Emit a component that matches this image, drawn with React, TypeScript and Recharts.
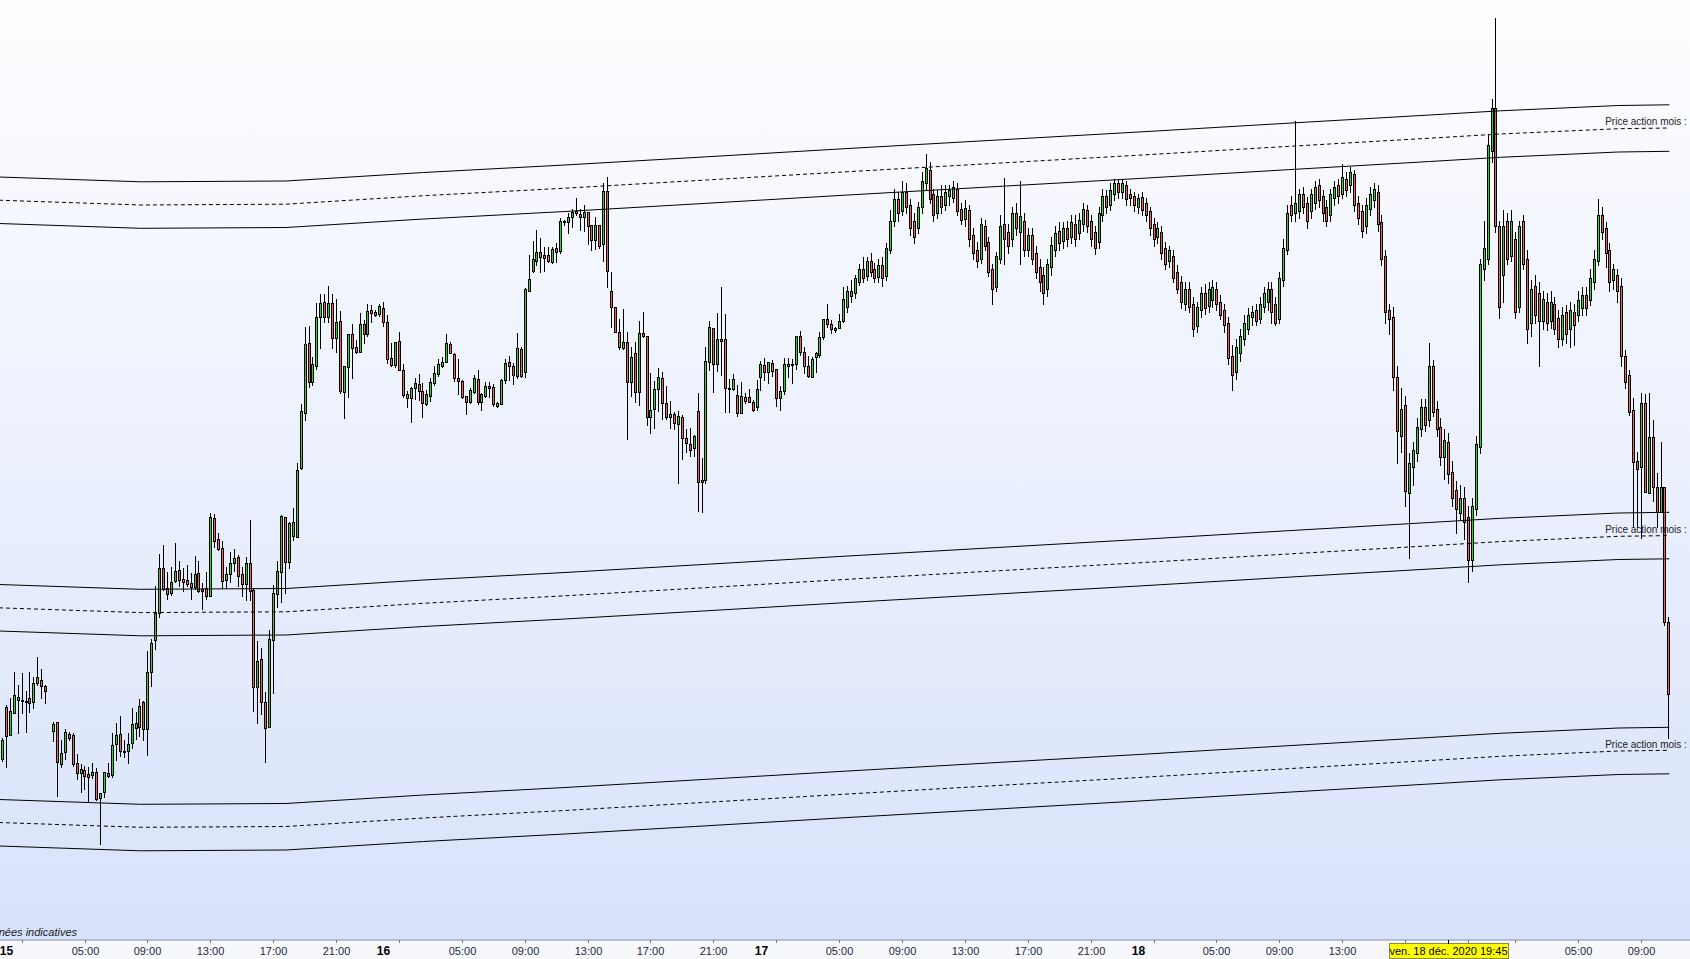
import React from 'react';
import { ComposedChart, Bar, Line, XAxis, YAxis } from 'recharts';

// 15-minute candles [open, high, low, close], first one = 14 Dec 23:45, null = no trade
const candles: ([number, number, number, number] | null)[] = [
  [640,660,638,655],[641,662,639,660],[693,695,633,664],[665,702,665,689],[687,728,687,705],[700,715,667,703],
  [700,727,687,700],[699,709,668,699],[702,728,688,697],[698,723,692,717],[717,743,715,723],[720,731,702,714],
  [714,715,697,709],null,[669,678,659,676],[678,678,604,638],[636,660,633,647],[648,671,641,668],
  [662,668,660,666],[665,667,634,636],[637,646,621,627],[627,636,608,631],[630,634,611,624],[626,633,598,623],
  [625,637,622,628],[628,632,600,601],[602,607,556,607],[608,628,603,628],[627,637,623,624],[625,667,623,655],
  [656,677,640,665],[666,684,644,649],[649,660,643,649],[649,667,637,656],[657,692,652,676],[677,688,661,672],
  [673,701,664,694],[698,699,660,671],[671,749,645,728],[728,761,714,757],[760,814,751,787],[787,846,783,832],
  [832,855,810,811],[812,828,801,806],[807,833,805,818],[819,857,818,829],[830,839,814,820],[821,832,809,818],
  [820,835,814,816],[817,827,801,813],[813,844,811,826],[827,839,808,809],[811,817,791,809],[812,828,801,804],
  [804,887,804,883],[882,886,853,859],[861,867,850,851],[852,859,812,819],[820,833,812,826],[826,848,818,837],
  [837,851,829,842],[843,845,814,824],[826,833,804,816],[816,843,800,837],[837,880,800,809],[810,812,689,713],
  [713,759,677,739],[741,752,686,698],[698,708,638,672],[673,770,673,761],[760,815,707,807],[806,839,793,829],
  [828,885,798,884],[883,883,807,838],[838,878,832,877],[864,892,860,878],[863,937,863,930],[932,996,931,989],
  [987,1073,980,1056],[1057,1074,1013,1018],[1018,1043,1015,1036],[1034,1097,1031,1083],[1083,1106,1052,1097],[1098,1106,1078,1083],
  [1083,1114,1078,1097],[1097,1106,1052,1062],[1062,1101,1048,1078],[1079,1089,1007,1009],[1008,1034,982,1034],[1033,1066,1003,1066],
  [1066,1076,1022,1052],[1053,1060,1047,1048],[1048,1087,1048,1076],[1076,1080,1057,1066],[1066,1096,1064,1089],[1090,1095,1078,1087],
  [1088,1090,1084,1085],[1086,1096,1084,1094],[1092,1098,1074,1078],[1078,1085,1037,1041],[1042,1057,1034,1035],[1035,1058,1033,1058],
  [1059,1068,1030,1030],[1030,1036,1003,1005],[1006,1009,993,1002],[1002,1013,978,1012],[1012,1022,1001,1017],[1016,1026,1000,1009],
  [1009,1017,983,997],[996,1010,995,1006],[1004,1022,999,1018],[1017,1034,1015,1027],[1026,1041,1024,1036],[1034,1043,1033,1038],
  [1038,1066,1038,1057],[1056,1058,1047,1047],[1046,1047,1019,1022],[1022,1041,1006,1019],[1019,1020,1002,1003],[1004,1004,986,998],
  [998,1012,997,1010],[1008,1025,1007,1022],[1021,1030,996,998],[998,1007,990,1006],[1004,1018,1003,1014],[1014,1018,1003,1012],
  [1013,1016,994,996],[994,998,993,997],[996,1021,996,1020],[1020,1041,1017,1037],[1038,1044,1020,1034],[1034,1037,1016,1025],
  [1024,1067,1022,1052],[1051,1053,1023,1024],[1028,1112,1023,1111],[1109,1145,1109,1121],[1129,1159,1128,1141],[1139,1170,1135,1148],
  [1148,1162,1128,1143],[1145,1153,1129,1142],[1145,1153,1138,1139],[1138,1153,1137,1151],[1152,1157,1138,1148],[1149,1182,1147,1179],
  [1178,1180,1175,1179],[1178,1187,1167,1183],[1183,1191,1173,1188],[1189,1202,1185,1187],[1186,1191,1170,1183],[1183,1195,1169,1188],
  [1188,1188,1156,1174],[1175,1175,1150,1160],[1160,1183,1151,1175],[1175,1175,1152,1154],[1156,1217,1139,1209],[1209,1223,1113,1129],
  [1109,1128,1073,1093],[1093,1093,1068,1068],[1068,1081,1051,1053],[1052,1091,1051,1058],[1058,1068,961,1018],[1018,1053,1004,1043],
  [1047,1058,998,1008],[1008,1079,995,1067],[1067,1088,1063,1064],[1064,1064,975,983],[983,1027,967,990],[991,1019,972,1011],
  [1011,1032,989,1023],[1022,1028,981,997],[997,1014,981,983],[983,999,972,986],[986,988,971,977],[976,989,917,984],
  [983,985,941,962],[962,971,948,957],[956,972,944,950],[952,965,944,964],[989,1007,889,918],[918,942,888,920],
  [920,1053,917,1039],[1038,1079,1030,1073],[1072,1072,1008,1036],[1036,1087,1029,1061],[1061,1113,1025,1059],[1061,1086,988,1012],
  [1012,1021,988,1011],[1011,1026,1010,1021],[1005,1015,984,987],[987,1018,987,1004],[1003,1007,997,999],[1003,1011,998,998],
  [998,1000,989,990],[993,1020,990,1011],[1023,1039,1010,1036],[1035,1042,1020,1028],[1028,1038,1017,1038],[1037,1040,1024,1029],
  [1031,1031,994,1002],[1002,1014,990,1009],[1009,1042,1006,1036],[1034,1042,1023,1036],[1035,1041,1017,1036],[1036,1064,1031,1064],
  [1064,1069,1045,1048],[1048,1053,1027,1034],[1034,1044,1023,1024],[1023,1043,1023,1041],[1043,1048,1028,1047],[1045,1068,1043,1063],
  [1063,1081,1061,1081],[1081,1096,1073,1076],[1076,1080,1067,1071],[1072,1073,1068,1070],[1072,1086,1072,1079],[1079,1113,1078,1101],
  [1093,1114,1088,1109],[1109,1120,1098,1104],[1107,1125,1102,1122],[1118,1136,1115,1131],[1131,1143,1118,1122],[1124,1143,1120,1139],
  [1139,1147,1124,1128],[1131,1137,1118,1122],[1123,1141,1118,1135],[1135,1143,1114,1122],[1124,1157,1120,1152],[1150,1190,1147,1179],
  [1179,1211,1174,1201],[1201,1208,1179,1187],[1189,1219,1185,1208],[1208,1217,1187,1193],[1195,1201,1165,1172],[1179,1187,1157,1163],
  [1172,1198,1167,1193],[1193,1228,1187,1219],[1217,1246,1210,1232],[1230,1238,1197,1201],[1206,1211,1179,1185],[1187,1210,1182,1204],
  [1204,1215,1187,1193],[1195,1215,1190,1208],[1204,1215,1195,1210],[1202,1219,1198,1213],[1211,1217,1185,1189],[1191,1197,1176,1180],
  [1181,1200,1174,1192],[1190,1195,1154,1161],[1165,1172,1141,1147],[1150,1158,1133,1139],[1141,1182,1137,1176],[1174,1180,1150,1154],
  [1158,1163,1124,1128],[1131,1136,1096,1111],[1113,1148,1109,1144],[1141,1185,1137,1174],[1176,1222,1136,1161],[1168,1176,1147,1154],
  [1161,1193,1154,1187],[1187,1197,1165,1172],[1168,1219,1136,1184],[1179,1187,1144,1150],[1150,1172,1144,1165],[1165,1172,1136,1141],
  [1147,1154,1122,1128],[1133,1141,1109,1118],[1125,1133,1096,1107],[1111,1141,1104,1136],[1133,1163,1125,1155],[1150,1174,1144,1167],
  [1169,1178,1150,1157],[1159,1178,1152,1172],[1172,1179,1154,1161],[1163,1185,1157,1178],[1176,1185,1154,1161],[1167,1187,1161,1180],
  [1176,1197,1169,1191],[1190,1195,1168,1174],[1179,1185,1154,1161],[1168,1174,1146,1152],[1158,1193,1152,1187],[1185,1211,1179,1204],
  [1204,1210,1187,1193],[1195,1217,1190,1210],[1206,1221,1200,1217],[1217,1221,1202,1208],[1208,1221,1202,1217],[1215,1219,1195,1201],
  [1206,1211,1195,1202],[1204,1208,1189,1195],[1193,1206,1187,1202],[1203,1208,1185,1190],[1197,1202,1179,1185],[1189,1193,1165,1172],
  [1176,1182,1154,1161],[1163,1178,1157,1172],[1168,1174,1141,1147],[1152,1158,1131,1136],[1139,1154,1133,1150],[1144,1150,1118,1122],
  [1128,1135,1107,1111],[1118,1124,1092,1098],[1096,1118,1090,1111],[1111,1118,1088,1093],[1096,1103,1064,1071],[1074,1098,1068,1093],
  [1090,1113,1083,1107],[1107,1116,1086,1092],[1094,1118,1088,1111],[1100,1120,1093,1113],[1111,1118,1090,1096],[1098,1105,1081,1085],
  [1090,1096,1068,1075],[1077,1083,1036,1042],[1044,1055,1010,1025],[1028,1061,1021,1053],[1047,1071,1039,1064],[1061,1085,1055,1077],
  [1071,1092,1066,1085],[1083,1094,1075,1088],[1090,1096,1075,1079],[1081,1103,1077,1096],[1093,1113,1088,1107],[1098,1118,1090,1111],
  [1111,1118,1077,1088],[1096,1103,1075,1077],[1081,1128,1077,1122],[1120,1161,1114,1152],[1150,1195,1146,1187],[1195,1204,1179,1185],
  [1187,1279,1179,1197],[1189,1211,1182,1206],[1206,1213,1187,1193],[1197,1203,1172,1179],[1189,1211,1182,1206],[1197,1219,1191,1213],
  [1215,1221,1193,1200],[1204,1210,1179,1187],[1193,1200,1174,1179],[1185,1211,1179,1206],[1202,1219,1195,1213],[1215,1221,1197,1204],
  [1206,1236,1202,1223],[1221,1228,1204,1210],[1215,1233,1208,1228],[1226,1230,1189,1195],[1197,1204,1176,1182],[1189,1195,1163,1169],
  [1174,1202,1167,1195],[1191,1213,1185,1206],[1200,1217,1193,1211],[1208,1215,1169,1176],[1178,1185,1135,1141],[1144,1150,1077,1088],
  [1090,1096,1066,1081],[1083,1093,1010,1023],[1023,1034,937,969],[964,1012,948,991],[995,1004,894,909],[907,947,842,937],
  [933,958,915,950],[947,982,939,973],[971,1001,964,993],[993,1001,969,975],[980,1057,974,1034],[1034,1040,984,988],
  [991,999,964,971],[973,982,935,943],[943,971,921,960],[958,967,917,926],[928,939,894,902],[910,919,867,891],
  [887,915,881,902],[902,913,861,878],[883,894,818,840],[840,902,829,894],[891,964,885,956],[953,1141,947,1136],
  [1131,1179,1120,1152],[1141,1265,1136,1255],[1249,1301,1238,1292],[1292,1382,1168,1174],[1174,1179,1082,1093],[1125,1190,1098,1174],
  [1179,1187,1136,1141],[1144,1190,1139,1179],[1161,1168,1082,1088],[1093,1179,1088,1174],[1179,1185,1131,1136],[1141,1150,1057,1071],
  [1077,1120,1064,1111],[1114,1125,1077,1085],[1107,1118,1034,1079],[1079,1109,1071,1101],[1098,1107,1070,1077],[1079,1109,1072,1098],
  [1096,1103,1066,1071],[1082,1090,1053,1061],[1061,1093,1055,1085],[1088,1095,1057,1066],[1071,1098,1053,1090],[1088,1096,1055,1075],
  [1085,1109,1079,1100],[1092,1113,1085,1105],[1105,1113,1085,1092],[1100,1131,1095,1122],[1118,1150,1111,1141],[1139,1201,1135,1185],
  [1185,1193,1161,1168],[1172,1178,1133,1147],[1150,1157,1109,1118],[1120,1136,1111,1131],[1125,1131,1098,1109],[1114,1122,1034,1044],
  [1044,1050,1012,1018],[1025,1030,985,988],[990,1002,873,938],[939,948,873,931],[933,1007,862,997],[997,1006,908,908],
  [907,1007,907,963],[963,980,899,913],[913,927,873,888],[888,958,888,913],[913,913,775,778],[778,783,662,706],
];

const firstIndex = -1;
const slotCount = 431;

// "Price action mois" bands, read at these candle indices
const anchorIdx = [-1, 35, 72, 107, 143, 179, 215, 253, 289, 327, 363, 381, 411, 424];
const band1Upper = [1223, 1218.2, 1219, 1227.5, 1235, 1243.2, 1251.5, 1260, 1268, 1276.8, 1285, 1289.2, 1294.5, 1295.2];
const band1Mid = [1199.8, 1195, 1195.8, 1204.3, 1211.8, 1220, 1228.3, 1236.8, 1244.8, 1253.6, 1261.8, 1266, 1271.3, 1272];
const band1Lower = [1176.5, 1171.7, 1172.5, 1181, 1188.5, 1196.7, 1205, 1213.5, 1221.5, 1230.3, 1238.5, 1242.7, 1248, 1248.7];
const band2Upper = [815.5, 810.7, 811.5, 820, 827.5, 835.7, 844, 852.5, 860.5, 869.3, 877.5, 881.7, 887, 887.7];
const band2Mid = [792.2, 787.4, 788.2, 796.7, 804.2, 812.4, 820.7, 829.2, 837.2, 846, 854.2, 858.4, 863.7, 864.4];
const band2Lower = [769, 764.2, 765, 773.5, 781, 789.2, 797.5, 806, 814, 822.8, 831, 835.2, 840.5, 841.2];
const band3Upper = [600.5, 595.7, 596.5, 605, 612.5, 620.7, 629, 637.5, 645.5, 654.3, 662.5, 666.7, 672, 672.7];
const band3Mid = [577.5, 572.7, 573.5, 582, 589.5, 597.7, 606, 614.5, 622.5, 631.3, 639.5, 643.7, 649, 649.7];
const band3Lower = [554, 549.2, 550, 558.5, 566, 574.2, 582.5, 591, 599, 607.8, 616, 620.2, 625.5, 626.2];
const bandLabel = 'Price action mois :';
const lastAnchor = anchorIdx[anchorIdx.length - 1];

// x axis ticks (candle index, label, kind)
const tickIdx = [0, 4, 20, 36, 52, 68, 84, 96, 100, 116, 132, 148, 164, 180, 192, 196, 212, 228, 244, 260, 276, 288, 292, 308, 324, 340, 356, 372, 384, 400, 416, 367];
const tickLabels = ['15', '', '05:00', '09:00', '13:00', '17:00', '21:00', '16', '', '05:00', '09:00', '13:00', '17:00', '21:00', '17', '', '05:00', '09:00', '13:00', '17:00', '21:00', '18', '', '05:00', '09:00', '13:00', '', '', '', '05:00', '09:00', 'ven. 18 déc. 2020 19:45'];
const tickKinds = ['day', 'tick', 'time', 'time', 'time', 'time', 'time', 'day', 'tick', 'time', 'time', 'time', 'time', 'time', 'day', 'tick', 'time', 'time', 'time', 'time', 'time', 'day', 'tick', 'time', 'time', 'time', 'tick', 'tick', 'tick', 'time', 'time', 'cursor'];

const footNote = 'Données indicatives';

const FONT = 'Arial, "Liberation Sans", sans-serif';

const data = Array.from({ length: slotCount }, (_, k) => {
  const i = k + firstIndex;
  const row: any = { i };
  const cd = candles[k];
  if (cd) {
    row.o = cd[0]; row.h = cd[1]; row.l = cd[2]; row.c = cd[3];
    row.range = [cd[2], cd[1]];
  }
  const a = anchorIdx.indexOf(i);
  if (a >= 0) {
    row.b1u = band1Upper[a]; row.b1m = band1Mid[a]; row.b1l = band1Lower[a];
    row.b2u = band2Upper[a]; row.b2m = band2Mid[a]; row.b2l = band2Lower[a];
    row.b3u = band3Upper[a]; row.b3m = band3Mid[a]; row.b3l = band3Lower[a];
  }
  return row;
});

const Candle = (props: any) => {
  const { x, y, width, height, payload } = props;
  if (!payload || payload.o == null) return null;
  const { o, h, l, c } = payload;
  const top = Math.min(y, y + height);
  const bot = Math.max(y, y + height);
  const span = h - l;
  const py = (v: number) => (span === 0 ? top : top + ((h - v) / span) * (bot - top));
  const col = Math.round(x + width / 2 - 0.5);
  const cx = col + 0.5;
  const bTop = Math.round(py(Math.max(o, c)));
  const bBot = Math.round(py(Math.min(o, c)));
  const up = c >= o;
  return (
    <g>
      <line x1={cx} x2={cx} y1={Math.round(top)} y2={Math.round(bot) + 1} stroke="#000" strokeWidth={1} />
      <rect x={col - 0.5} y={bTop + 0.5} width={2} height={Math.max(bBot - bTop, 1)} fill={up ? '#2fd22f' : '#ee5f5f'} stroke="#000" strokeWidth={1} />
    </g>
  );
};

const AxisTick = (props: any) => {
  const { x, y, payload } = props;
  const k = tickIdx.indexOf(payload.value);
  if (k < 0) return null;
  const kind = tickKinds[k];
  const lab = tickLabels[k];
  const tx = Math.round(x + 3) + 0.5;
  if (kind === 'day') {
    return (
      <text x={tx} y={y + 15} textAnchor="middle" fontFamily={FONT} fontSize={12} fontWeight="bold" fill="#000">{lab}</text>
    );
  }
  if (kind === 'tick') {
    return <line x1={tx} x2={tx} y1={y} y2={y + 3} stroke="#6d7a8c" />;
  }
  if (kind === 'cursor') {
    return (
      <g>
        <rect x={Math.round(tx - 59.5) + 0.5} y={y + 3.5} width={119} height={15} fill="#ffff00" stroke="#8c8c3c" strokeWidth={1} />
        <text x={tx} y={y + 15} textAnchor="middle" fontFamily={FONT} fontSize={11} fill="#000">{lab}</text>
        <line x1={tx} x2={tx} y1={y} y2={y + 4} stroke="#000" />
      </g>
    );
  }
  return (
    <g>
      <line x1={tx} x2={tx} y1={y} y2={y + 3} stroke="#6d7a8c" />
      <text x={tx} y={y + 15} textAnchor="middle" fontFamily={FONT} fontSize={11} fill="#1d2744">{lab}</text>
    </g>
  );
};

const BandLabel = (props: any) => {
  const { x, y, value, index } = props;
  if (value == null || x == null || y == null) return null;
  if (index !== lastAnchor - firstIndex) return null;
  return (
    <text x={x + 17.5} y={y + 17} textAnchor="end" dominantBaseline="central" fontFamily={FONT} fontSize={10} fill="#222">{bandLabel}</text>
  );
};

const lineProps = {
  type: 'linear' as const,
  stroke: '#000',
  strokeWidth: 1,
  dot: false,
  activeDot: false,
  connectNulls: true,
  isAnimationActive: false,
};

export default function App() {
  return (
    <div
      style={{
        position: 'fixed',
        left: 0,
        top: 0,
        width: 1690,
        height: 959,
        overflow: 'hidden',
        background: 'linear-gradient(to bottom, #fefeff 0px, #d7e2fa 940px) 0 0 / 100% 940px no-repeat, #f7f8fb',
      }}
    >
      <div style={{ position: 'absolute', left: -3, top: 0 }}>
        <ComposedChart width={1694} height={959} data={data} margin={{ top: 0, right: 0, bottom: 0, left: 0 }} barCategoryGap={0}>
          <XAxis
            dataKey="i"
            type="category"
            ticks={tickIdx}
            interval={0}
            height={19}
            tickSize={0}
            tickMargin={0}
            tickLine={false}
            axisLine={{ stroke: '#8390a3' }}
            tick={<AxisTick />}
          />
          <YAxis type="number" domain={[460, 1400]} hide allowDataOverflow />
          <Line dataKey="b1u" {...lineProps} label={<BandLabel />} />
          <Line dataKey="b1m" {...lineProps} strokeDasharray="4 3" />
          <Line dataKey="b1l" {...lineProps} />
          <Line dataKey="b2u" {...lineProps} label={<BandLabel />} />
          <Line dataKey="b2m" {...lineProps} strokeDasharray="4 3" />
          <Line dataKey="b2l" {...lineProps} />
          <Line dataKey="b3u" {...lineProps} label={<BandLabel />} />
          <Line dataKey="b3m" {...lineProps} strokeDasharray="4 3" />
          <Line dataKey="b3l" {...lineProps} />
          <Bar dataKey="range" barSize={3} shape={<Candle />} isAnimationActive={false} />
        </ComposedChart>
      </div>
      <div
        style={{
          position: 'absolute',
          right: 1690 - 77,
          top: 926,
          fontFamily: FONT,
          fontSize: 11,
          fontStyle: 'italic',
          color: '#1a1a1a',
          whiteSpace: 'nowrap',
          lineHeight: '13px',
        }}
      >
        {footNote}
      </div>
    </div>
  );
}
